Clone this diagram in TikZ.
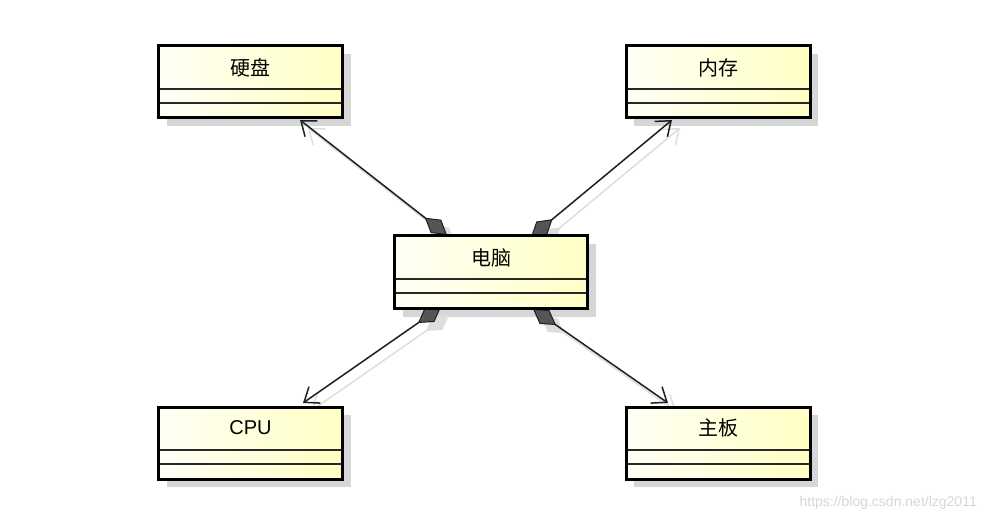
\documentclass[tikz,border=0pt]{standalone}
\usepackage{fontspec}
\setmainfont{Liberation Sans}
\newfontfamily\cjk{Noto Sans CJK SC}
\usetikzlibrary{arrows.meta,calc}
\definecolor{boxL}{RGB}{255,255,246}
\definecolor{boxR}{RGB}{255,255,196}
\definecolor{shadowc}{RGB}{214,214,214}
\definecolor{lineshadow}{RGB}{222,222,222}
\definecolor{sepc}{RGB}{40,40,40}
\definecolor{linec}{RGB}{30,30,30}
\definecolor{diamc}{RGB}{85,85,85}
\definecolor{wmark}{RGB}{215,215,215}
\pgfdeclarelayer{paper}
\pgfdeclarelayer{shadowlayer}
\pgfdeclarelayer{connlayer}
\pgfsetlayers{paper,shadowlayer,connlayer,main}
\tikzset{
  umlbox/.style={draw=black, line width=3pt, left color=boxL, right color=boxR,
    minimum width=184pt, minimum height=72pt, inner sep=0pt, outer sep=0pt},
  widebox/.style={umlbox, minimum width=193pt, minimum height=73pt},
  boxname/.style={font=\fontsize{20}{22}\selectfont, inner sep=0pt},
  sepline/.style={draw=sepc, line width=2pt},
  boxshadow/.style={fill=shadowc},
  compo/.style={draw=linec, line width=1.5pt,
    {Diamond[length=28pt,width=17pt,fill=diamc,line width=1pt]}-{Straight Barb[length=13pt,width=20pt]}},
  compoShadow/.style={draw=lineshadow, line width=1.5pt,
    {Diamond[length=28pt,width=17pt,fill=lineshadow,line width=1pt]}-{Straight Barb[length=13pt,width=20pt]}},
}
\newcommand{\umlseps}[1]{%
  \draw[sepline] ($(#1.north west)+(1.5,43)$) -- ($(#1.north east)+(-1.5,43)$);
  \draw[sepline] ($(#1.north west)+(1.5,57)$) -- ($(#1.north east)+(-1.5,57)$);
  \begin{pgfonlayer}{shadowlayer}
    \fill[boxshadow] ($(#1.north west)+(8,8)$) rectangle ($(#1.south east)+(8,8)$);
  \end{pgfonlayer}}
\begin{document}
\begin{tikzpicture}[x=1pt,y=-1pt]
\useasboundingbox (0,0) rectangle (986,522);
\begin{pgfonlayer}{paper}
  \fill[white] (0,0) rectangle (986,522);
\end{pgfonlayer}

% boxes
\node[umlbox]  (disk) at (250.5,81.5) {};
\node[umlbox]  (mem)  at (718,81.5) {};
\node[widebox] (pc)   at (491,272) {};
\node[umlbox]  (cpu)  at (250.5,443) {};
\node[umlbox]  (board) at (718,443) {};

\umlseps{disk}
\umlseps{mem}
\umlseps{pc}
\umlseps{cpu}
\umlseps{board}

% names
\node[boxname] (tdisk)  at (250.5,68) {\cjk 硬盘};
\node[boxname] (tmem)   at (718,68)   {\cjk 内存};
\node[boxname] (tpc)    at (491,258)  {\cjk 电脑};
\node[boxname] (tcpu)   at (250.5,428) {CPU};
\node[boxname] (tboard) at (718,428)  {\cjk 主板};

% connector end points
\coordinate (s1) at (447,235);  \coordinate (e1) at (300,120);
\coordinate (s2) at (531,237);  \coordinate (e2) at (672,120);
\coordinate (s3) at (441,307);  \coordinate (e3) at (303,403);
\coordinate (s4) at (533,309);  \coordinate (e4) at (668,403);

\begin{pgfonlayer}{shadowlayer}
  \foreach \a/\b in {s1/e1,s2/e2,s3/e3,s4/e4}
    \draw[compoShadow] ($(\a)+(8,8)$) -- ($(\b)+(8,8)$);
\end{pgfonlayer}
\begin{pgfonlayer}{connlayer}
  \draw[compo] (s1) -- (e1);
  \draw[compo] (s2) -- (e2);
  \draw[compo] (s3) -- (e3);
  \draw[compo] (s4) -- (e4);
\end{pgfonlayer}

% watermark
\node[anchor=east, text=wmark, font=\fontsize{14}{16}\selectfont, inner sep=0pt] (wm) at (977,503) {https://blog.csdn.net/lzg2011};
\end{tikzpicture}
\end{document}
